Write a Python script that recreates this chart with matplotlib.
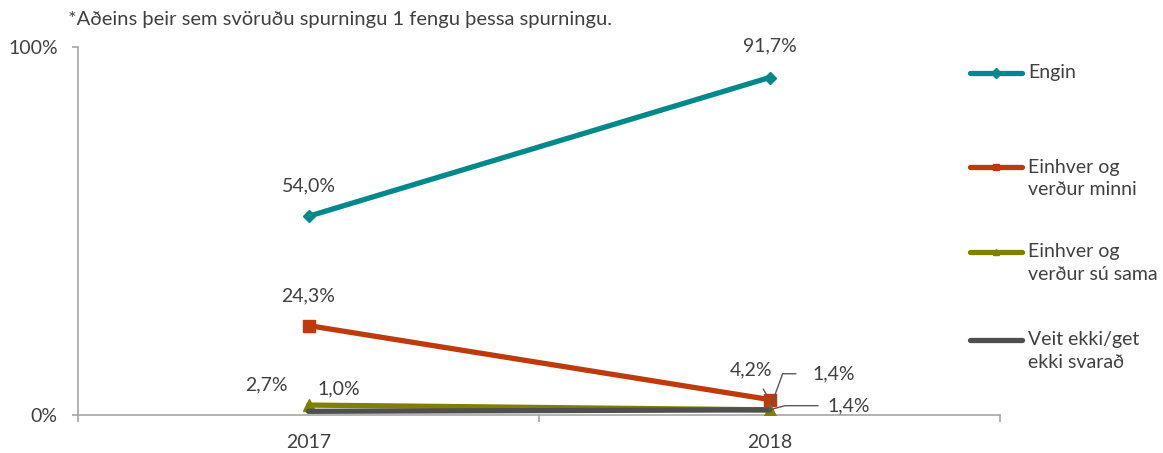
import matplotlib
matplotlib.use("Agg")
import matplotlib.pyplot as plt
from matplotlib.lines import Line2D

plt.rcParams['font.family'] = ['Lato', 'DejaVu Sans']

years = ["2017", "2018"]
series_names = ["Engin", "Einhver og\nverður minni", "Einhver og\nverður sú sama", "Veit ekki/get\nekki svarað"]
engin = [54.0, 91.7]
minni = [24.3, 4.2]
sama = [2.7, 1.4]
veit = [1.0, 1.4]
all_series = [engin, minni, sama, veit]
colors = ["#00898A", "#BE3A0B", "#808000", "#4F4F4F"]
markers = ["D", "s", "^", None]
msizes = [6, 9, 8, 0]
text_col = "#404040"
axis_col = "#A6A6A6"
fs = 14

fig = plt.figure(figsize=(11.63, 4.53), dpi=100)
ax = fig.add_axes([78/1163, 1-415/453, 922/1163, 368/453])
x = list(range(len(years)))

for vals, c, m, ms in zip(all_series, colors, markers, msizes):
    ax.plot(x, vals, color=c, lw=3.8, marker=m, markersize=ms, solid_capstyle='round', zorder=3)

ax.set_xlim(-0.5, 1.5)
ax.set_ylim(0, 100)
ax.set_yticks([0, 100])
ax.set_yticklabels(["0%", "100%"], color=text_col, fontsize=fs)
ax.set_xticks(x)
ax.set_xticklabels(years, color=text_col, fontsize=fs)
ax.tick_params(axis='x', length=0, pad=14)
ax.set_xticks([-0.5, 0.5, 1.5], minor=True)
ax.tick_params(axis='x', which='minor', length=5, color=axis_col, width=1.2)
ax.tick_params(axis='y', length=4.5, color=axis_col, width=1.2, pad=10)
for s in ['top', 'right']:
    ax.spines[s].set_visible(False)
for s in ['left', 'bottom']:
    ax.spines[s].set_color(axis_col)
    ax.spines[s].set_linewidth(1.2)

def pct(v):
    return f"{v:.1f}%".replace(".", ",")

def lab(v, xi, dx, dy, **kw):
    ax.annotate(pct(v), (xi, v), xytext=(dx, dy), textcoords='offset points',
                ha=kw.pop('ha', 'center'), va='center', fontsize=fs, color=text_col, **kw)

lab(engin[0], 0, 0, 21.6)
lab(engin[1], 1, 0, 23)
lab(minni[0], 0, 0, 21.6)
lab(minni[1], 1, -13, 21.6, arrowprops=dict(arrowstyle='-', color='#595959', lw=1, shrinkA=7, shrinkB=3))
lab(sama[0], 0, -30, 14.4)
lab(veit[0], 0, 21.6, 16.5)
lab(sama[1], 1, 31, 26, ha='left',
    arrowprops=dict(arrowstyle='-', color='#595959', lw=1, shrinkA=10, shrinkB=0,
                    connectionstyle='angle,angleA=0,angleB=70,rad=0'))
lab(veit[1], 1, 42, 3, ha='left',
    arrowprops=dict(arrowstyle='-', color='#595959', lw=1, shrinkA=5, shrinkB=0,
                    connectionstyle='angle,angleA=0,angleB=15,rad=0'))

fig.text(68/1163, 1-20/453, "*Aðeins þeir sem svöruðu spurningu 1 fengu þessa spurningu.",
         fontsize=14.5, color=text_col, ha='left', va='center')

# manual legend
leg_y = [73, 167, 252, 340]
for name, c, m, y in zip(series_names, colors, markers, leg_y):
    yy = 1 - y/453
    fig.add_artist(Line2D([970/1163, 1022/1163], [yy, yy], color=c, lw=3.8,
                          solid_capstyle='round', transform=fig.transFigure))
    if m:
        fig.add_artist(Line2D([996/1163], [yy], color=c, marker=m, markersize=5,
                              transform=fig.transFigure))
    for i, ln in enumerate(name.split("\n")):
        fig.text(1028/1163, 1 - (y + i*23)/453, ln, fontsize=fs, color=text_col,
                 ha='left', va='center')

fig.savefig("out.png", dpi=100)
